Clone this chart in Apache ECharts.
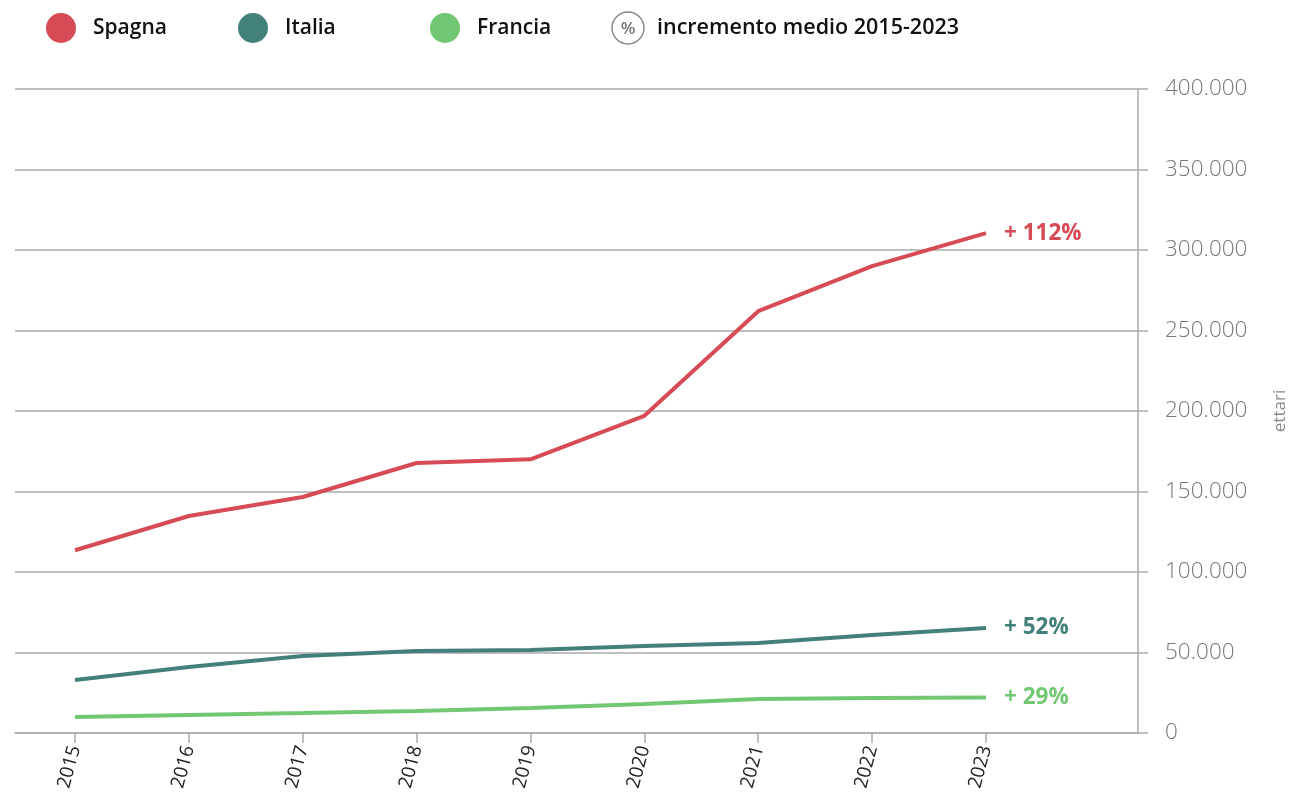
<!DOCTYPE html>
<html><head><meta charset="utf-8">
<script src="https://cdn.jsdelivr.net/npm/echarts@6/dist/echarts.min.js"></script>
<style>html,body{margin:0;padding:0;background:#fff}#c{width:1290px;height:804px}</style>
</head><body><div id="c"></div>
<script>
const years = [2015, 2016, 2017, 2018, 2019, 2020, 2021, 2022, 2023];
const spagna = [113500, 134800, 146600, 167700, 170000, 197000, 262000, 290000, 310500];
const italia = [32900, 41000, 47800, 50900, 51500, 54000, 55900, 60900, 65200];
const francia = [9900, 11200, 12400, 13700, 15500, 18000, 21100, 21700, 22000];
const seriesNames = ['Spagna', 'Italia', 'Francia'];
const increments = ['+ 112%', '+ 52%', '+ 29%'];
const colors = ['#d64b55', '#44807b', '#72c773'];
const legendLefts = [46, 238, 430];

const chart = echarts.init(document.getElementById('c'));
const fmt = v => v === 0 ? '0' : String(v).replace(/\B(?=(\d{3})+(?!\d))/g, '.');
const allData = [spagna, italia, francia];
const series = seriesNames.map((n, i) => ({
  name: n, type: 'line', symbol: 'none',
  data: years.map((y, k) => [y, allData[i][k]]),
  lineStyle: { width: 4, color: colors[i] },
  itemStyle: { color: colors[i] },
  endLabel: {
    show: true, formatter: () => increments[i], distance: 18,
    color: colors[i], fontSize: 22.5, fontWeight: 'bold', fontFamily: 'Open Sans'
  },
  emphasis: { disabled: true }
}));
const legends = seriesNames.map((n, i) => ({
  data: [n], left: legendLefts[i], top: 13, padding: 0, icon: 'circle',
  itemWidth: 30, itemHeight: 30,
  textStyle: { fontSize: 21, fontWeight: 600, color: '#111', fontFamily: 'Open Sans', padding: [0, 0, 0, 12] }
}));

chart.setOption({
  animation: false,
  grid: { left: 15, right: 152, top: 89, bottom: 71, containLabel: false, outerBoundsMode: 'none' },
  legend: legends,
  graphic: [
    { type: 'circle', shape: { cx: 628, cy: 28, r: 16 }, style: { fill: '#fff', stroke: '#888', lineWidth: 1.5 } },
    { type: 'text', x: 628, y: 29, style: { text: '%', fontSize: 17, fontWeight: 600, fill: '#777', align: 'center', verticalAlign: 'middle', fontFamily: 'Open Sans' } },
    { type: 'text', x: 657, y: 28, style: { text: 'incremento medio 2015-2023', fontSize: 21.5, fontWeight: 600, fill: '#111', verticalAlign: 'middle', fontFamily: 'Open Sans' } }
  ],
  xAxis: {
    type: 'value', min: 2014.473, max: 2024.335,
    axisLine: { show: true, lineStyle: { color: '#aaa', width: 1.5 } },
    axisTick: { show: true, customValues: years, length: 10, lineStyle: { color: '#aaa', width: 1.5 } },
    axisLabel: { customValues: years, rotate: 75, color: '#222', fontSize: 19, fontFamily: 'Open Sans', margin: 13, formatter: v => String(v) },
    splitLine: { show: false }
  },
  yAxis: {
    type: 'value', position: 'right', min: 0, max: 400000, interval: 50000,
    name: 'ettari', nameLocation: 'middle', nameRotate: 90, nameGap: 134,
    nameTextStyle: { color: '#888', fontSize: 17, fontFamily: 'Open Sans' },
    axisLine: { show: true, lineStyle: { color: '#aaa', width: 1.5 } },
    axisTick: { show: true, length: 10, lineStyle: { color: '#aaa', width: 1.5 } },
    axisLabel: { color: '#777', fontSize: 22.5, fontWeight: 300, fontFamily: 'Open Sans', margin: 27, formatter: fmt },
    splitLine: { show: true, lineStyle: { color: '#aaa', width: 1.5 } }
  },
  series: series
});
</script></body></html>
